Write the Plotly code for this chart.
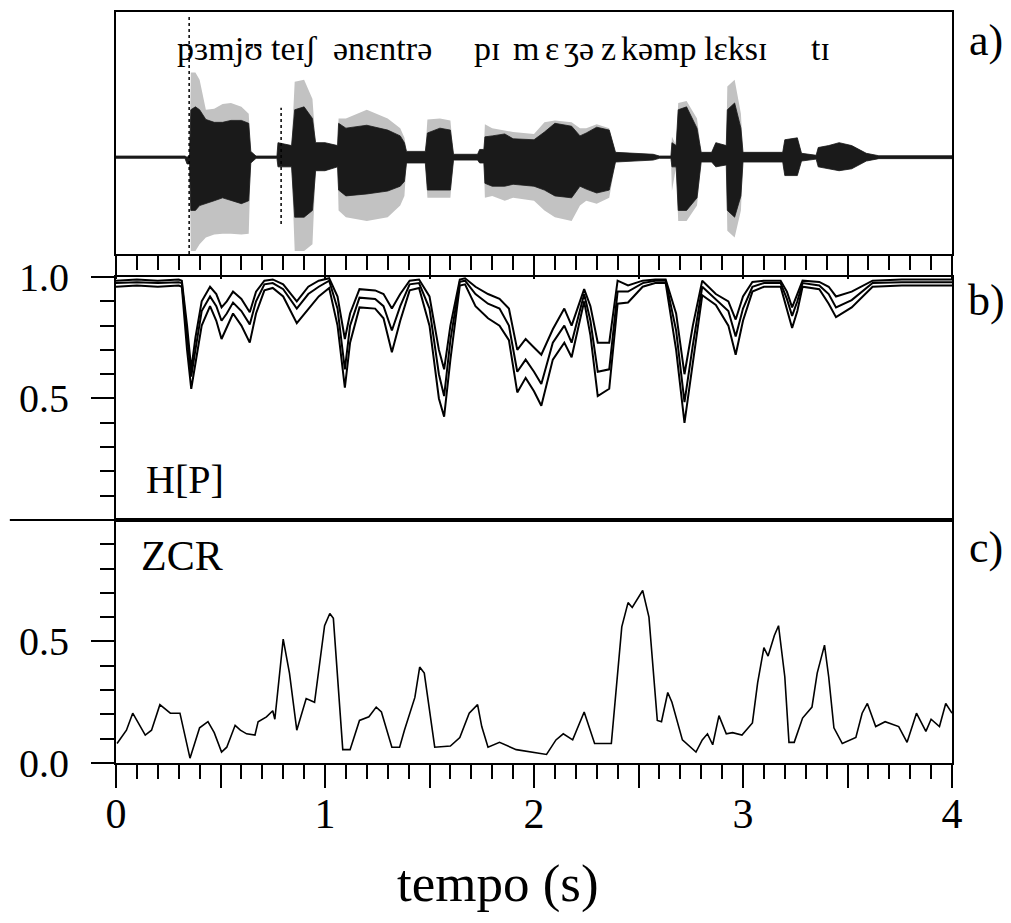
import plotly.graph_objects as go

# ---------------- data ----------------
# panel a: speech waveform envelopes (arbitrary amplitude units)
wave_t = [0.00, 0.33, 0.34, 0.352, 0.358, 0.38, 0.40, 0.43, 0.47, 0.51, 0.55, 0.60, 0.635, 0.645, 0.67,
          0.77, 0.775, 0.84, 0.855, 0.90, 0.94, 0.955, 1.00, 1.06, 1.065, 1.10, 1.20, 1.30, 1.36, 1.38,
          1.39, 1.48, 1.49, 1.55, 1.60, 1.615, 1.73, 1.74, 1.76, 1.765, 1.80, 1.86, 1.90, 2.00, 2.05,
          2.10, 2.18, 2.22, 2.25, 2.30, 2.36, 2.39, 2.57, 2.60, 2.655, 2.66, 2.68, 2.69, 2.73, 2.78,
          2.80, 2.85, 2.87, 2.92, 2.925, 2.96, 2.99, 3.00, 3.19, 3.20, 3.26, 3.28, 3.35, 3.36, 3.41,
          3.46, 3.52, 3.59, 3.65, 4.00]
core_hi = [0.012, 0.012, 0.00, 0.02, 0.49, 0.52, 0.49, 0.39, 0.36, 0.36, 0.38, 0.38, 0.35, 0.06, 0.012,
           0.012, 0.15, 0.12, 0.49, 0.52, 0.40, 0.15, 0.15, 0.12, 0.35, 0.30, 0.33, 0.28, 0.22, 0.15,
           0.06, 0.06, 0.25, 0.30, 0.28, 0.03, 0.03, 0.08, 0.08, 0.21, 0.22, 0.24, 0.19, 0.18, 0.26,
           0.35, 0.32, 0.22, 0.25, 0.31, 0.28, 0.05, 0.03, 0.012, 0.012, 0.15, 0.12, 0.49, 0.52, 0.30,
           0.05, 0.05, 0.15, 0.12, 0.49, 0.56, 0.30, 0.05, 0.05, 0.18, 0.20, 0.04, 0.02, 0.10, 0.12,
           0.15, 0.12, 0.04, 0.015, 0.015]
core_lo = [-0.012, -0.012, -0.07, -0.07, -0.55, -0.55, -0.50, -0.48, -0.45, -0.42, -0.45, -0.48, -0.45, -0.06, -0.012,
           -0.012, -0.10, -0.10, -0.62, -0.62, -0.55, -0.14, -0.14, -0.10, -0.34, -0.40, -0.38, -0.35, -0.30, -0.25,
           -0.06, -0.06, -0.34, -0.34, -0.34, -0.03, -0.03, -0.06, -0.06, -0.27, -0.30, -0.30, -0.28, -0.30, -0.34,
           -0.40, -0.42, -0.30, -0.33, -0.37, -0.34, -0.05, -0.03, -0.012, -0.012, -0.10, -0.10, -0.55, -0.55, -0.42,
           -0.05, -0.05, -0.10, -0.08, -0.55, -0.62, -0.40, -0.05, -0.05, -0.19, -0.19, -0.04, -0.02, -0.10, -0.12,
           -0.14, -0.12, -0.04, -0.015, -0.015]
outer_hi = [0.012, 0.012, 0.00, 0.02, 0.875, 0.875, 0.80, 0.49, 0.50, 0.55, 0.56, 0.52, 0.45, 0.06, 0.012,
            0.012, 0.15, 0.12, 0.78, 0.80, 0.60, 0.15, 0.15, 0.12, 0.40, 0.40, 0.49, 0.40, 0.30, 0.20,
            0.06, 0.06, 0.39, 0.40, 0.38, 0.03, 0.03, 0.08, 0.08, 0.34, 0.30, 0.28, 0.26, 0.24, 0.36,
            0.38, 0.36, 0.30, 0.30, 0.34, 0.30, 0.05, 0.03, 0.012, 0.012, 0.21, 0.12, 0.56, 0.58, 0.40,
            0.05, 0.05, 0.15, 0.12, 0.73, 0.80, 0.45, 0.05, 0.05, 0.18, 0.20, 0.04, 0.02, 0.10, 0.12,
            0.15, 0.12, 0.04, 0.015, 0.015]
outer_lo = [-0.012, -0.012, -0.07, -0.07, -0.97, -0.97, -0.90, -0.83, -0.80, -0.79, -0.79, -0.80, -0.79, -0.06, -0.012,
            -0.012, -0.10, -0.10, -0.97, -0.97, -0.90, -0.14, -0.14, -0.10, -0.55, -0.62, -0.66, -0.62, -0.50, -0.40,
            -0.06, -0.06, -0.42, -0.42, -0.42, -0.03, -0.03, -0.06, -0.06, -0.42, -0.40, -0.45, -0.42, -0.45, -0.55,
            -0.62, -0.66, -0.50, -0.45, -0.48, -0.42, -0.05, -0.03, -0.012, -0.012, -0.35, -0.10, -0.66, -0.66, -0.50,
            -0.05, -0.05, -0.10, -0.08, -0.76, -0.83, -0.55, -0.05, -0.05, -0.19, -0.19, -0.04, -0.02, -0.10, -0.12,
            -0.14, -0.12, -0.04, -0.015, -0.015]
spike_t = [0.35, 0.79]
spike_hi = [1.46, 0.51]
spike_lo = [-1.0, -0.69]

ipa_labels = ["pɜmjʊ", "teɪʃ", "ənɛntrə", "pɪ", "m", "ɛ", "ʒə", "z", "kəmp", "lɛksɪ", "tɪ"]
ipa_t = [0.282, 0.73, 1.03, 1.701, 1.892, 2.041, 2.136, 2.313, 2.409, 2.805, 3.317]

# panel b: H[P] (three curves)
hp_t = [0.00, 0.10, 0.20, 0.30, 0.315, 0.34, 0.36, 0.38, 0.41, 0.45, 0.48, 0.505, 0.53, 0.56, 0.60, 0.64,
        0.67, 0.71, 0.75, 0.80, 0.865, 0.92, 0.97, 1.02, 1.06, 1.095, 1.12, 1.165, 1.24, 1.28, 1.32, 1.36,
        1.405, 1.45, 1.50, 1.545, 1.57, 1.60, 1.645, 1.67, 1.72, 1.78, 1.835, 1.88, 1.92, 1.96, 2.00, 2.035,
        2.09, 2.145, 2.18, 2.24, 2.27, 2.305, 2.36, 2.40, 2.45, 2.52, 2.58, 2.63, 2.68, 2.72, 2.76, 2.805,
        2.87, 2.93, 2.965, 3.00, 3.045, 3.10, 3.18, 3.21, 3.235, 3.26, 3.285, 3.365, 3.41, 3.445, 3.52, 3.62,
        3.76, 3.90, 4.00]
hp_top = [0.985, 0.99, 0.985, 0.99, 0.985, 0.80, 0.62, 0.75, 0.90, 0.96, 0.93, 0.875, 0.90, 0.94, 0.91, 0.855,
          0.94, 0.985, 0.99, 0.97, 0.90, 0.96, 0.985, 0.995, 0.92, 0.745, 0.85, 0.95, 0.945, 0.93, 0.87, 0.93,
          0.985, 0.99, 0.92, 0.70, 0.62, 0.80, 0.99, 0.995, 0.96, 0.93, 0.91, 0.87, 0.70, 0.745, 0.71, 0.68,
          0.785, 0.87, 0.80, 0.95, 0.88, 0.73, 0.73, 0.985, 0.965, 0.985, 0.99, 0.99, 0.85, 0.60, 0.80, 0.985,
          0.93, 0.90, 0.825, 0.92, 0.98, 0.985, 0.985, 0.94, 0.875, 0.93, 0.985, 0.98, 0.96, 0.92, 0.94, 0.985,
          0.99, 0.99, 0.99]
hp_mid = [0.975, 0.978, 0.975, 0.978, 0.975, 0.75, 0.59, 0.70, 0.86, 0.92, 0.88, 0.82, 0.85, 0.895, 0.86, 0.805,
          0.90, 0.97, 0.975, 0.95, 0.87, 0.93, 0.96, 0.985, 0.87, 0.62, 0.80, 0.915, 0.91, 0.88, 0.78, 0.88,
          0.97, 0.975, 0.87, 0.60, 0.51, 0.74, 0.98, 0.985, 0.93, 0.89, 0.87, 0.80, 0.61, 0.66, 0.61, 0.56,
          0.73, 0.80, 0.73, 0.93, 0.82, 0.61, 0.62, 0.94, 0.94, 0.975, 0.985, 0.985, 0.78, 0.485, 0.72, 0.96,
          0.91, 0.86, 0.755, 0.87, 0.96, 0.975, 0.975, 0.91, 0.84, 0.90, 0.975, 0.965, 0.93, 0.875, 0.905, 0.975,
          0.978, 0.978, 0.978]
hp_bot = [0.96, 0.965, 0.96, 0.965, 0.96, 0.70, 0.54, 0.64, 0.80, 0.88, 0.82, 0.745, 0.79, 0.85, 0.80, 0.73,
          0.85, 0.945, 0.955, 0.92, 0.81, 0.87, 0.92, 0.955, 0.80, 0.545, 0.73, 0.875, 0.87, 0.83, 0.69, 0.82,
          0.945, 0.955, 0.80, 0.50, 0.425, 0.66, 0.965, 0.97, 0.88, 0.83, 0.80, 0.74, 0.525, 0.585, 0.53, 0.47,
          0.66, 0.73, 0.67, 0.90, 0.76, 0.51, 0.54, 0.89, 0.895, 0.96, 0.975, 0.975, 0.70, 0.40, 0.65, 0.925,
          0.885, 0.80, 0.68, 0.82, 0.94, 0.96, 0.96, 0.87, 0.79, 0.86, 0.96, 0.95, 0.89, 0.835, 0.875, 0.96,
          0.965, 0.965, 0.965]

# panel c: zero-crossing rate
zcr_t = [0.005, 0.05, 0.08, 0.10, 0.14, 0.17, 0.21, 0.26, 0.306, 0.354, 0.40, 0.44, 0.47, 0.505, 0.53,
         0.57, 0.595, 0.625, 0.665, 0.68, 0.72, 0.75, 0.76, 0.80, 0.83, 0.865, 0.91, 0.95, 0.998, 1.023,
         1.04, 1.085, 1.12, 1.165, 1.21, 1.245, 1.27, 1.32, 1.357, 1.38, 1.43, 1.453, 1.475, 1.525, 1.60,
         1.645, 1.69, 1.73, 1.75, 1.78, 1.835, 1.915, 2.06, 2.105, 2.14, 2.185, 2.24, 2.29, 2.37, 2.42,
         2.45, 2.47, 2.52, 2.55, 2.59, 2.61, 2.64, 2.66, 2.71, 2.775, 2.805, 2.83, 2.855, 2.885, 2.92,
         2.95, 2.995, 3.045, 3.07, 3.10, 3.12, 3.15, 3.17, 3.20, 3.22, 3.245, 3.285, 3.33, 3.355, 3.39,
         3.41, 3.435, 3.475, 3.54, 3.57, 3.595, 3.635, 3.68, 3.745, 3.785, 3.83, 3.875, 3.90, 3.94, 3.97,
         4.00]
zcr = [0.08, 0.135, 0.205, 0.175, 0.115, 0.135, 0.24, 0.205, 0.205, 0.02, 0.145, 0.17, 0.125, 0.045, 0.065,
       0.155, 0.135, 0.12, 0.115, 0.17, 0.19, 0.215, 0.18, 0.51, 0.37, 0.135, 0.265, 0.25, 0.565, 0.615,
       0.595, 0.055, 0.055, 0.175, 0.19, 0.23, 0.21, 0.065, 0.065, 0.135, 0.27, 0.395, 0.37, 0.065, 0.07,
       0.105, 0.205, 0.24, 0.15, 0.065, 0.085, 0.055, 0.035, 0.095, 0.12, 0.095, 0.21, 0.08, 0.08, 0.56,
       0.66, 0.64, 0.71, 0.60, 0.175, 0.17, 0.29, 0.25, 0.095, 0.045, 0.095, 0.12, 0.075, 0.195, 0.12,
       0.125, 0.115, 0.165, 0.33, 0.475, 0.44, 0.525, 0.565, 0.355, 0.085, 0.085, 0.185, 0.23, 0.37, 0.485,
       0.355, 0.145, 0.08, 0.105, 0.205, 0.245, 0.15, 0.17, 0.15, 0.085, 0.205, 0.13, 0.18, 0.15, 0.245,
       0.205]

x_major = [0, 0.5, 1, 1.5, 2, 2.5, 3, 3.5, 4]
x_labels = ["0", "", "1", "", "2", "", "3", "", "4"]

# ---------------- figure ----------------
SERIF = "Liberation Serif, DejaVu Serif, serif"
BLK = "black"
fig = go.Figure()

fig.add_trace(go.Scatter(x=wave_t + wave_t[::-1], y=outer_hi + outer_lo[::-1], fill="toself",
                         fillcolor="#c2c2c2", line=dict(width=0), mode="lines",
                         xaxis="x", yaxis="y", hoverinfo="skip"))
fig.add_trace(go.Scatter(x=wave_t + wave_t[::-1], y=core_hi + core_lo[::-1], fill="toself",
                         fillcolor="#1a1a1a", line=dict(width=0.8, color="#1a1a1a"), mode="lines",
                         xaxis="x", yaxis="y", hoverinfo="skip"))
sx, sy = [], []
for t, hi, lo in zip(spike_t, spike_hi, spike_lo):
    sx += [t, t, None]
    sy += [lo, hi, None]
fig.add_trace(go.Scatter(x=sx, y=sy, mode="lines", line=dict(color=BLK, width=1.5, dash="dot"),
                         xaxis="x", yaxis="y", hoverinfo="skip"))

for series in (hp_top, hp_mid, hp_bot):
    fig.add_trace(go.Scatter(x=hp_t, y=series, mode="lines", line=dict(color=BLK, width=2),
                             xaxis="x2", yaxis="y2", hoverinfo="skip"))

fig.add_trace(go.Scatter(x=zcr_t, y=zcr, mode="lines", line=dict(color=BLK, width=1.6),
                         xaxis="x3", yaxis="y3", hoverinfo="skip"))

minor_x = dict(ticks="outside", dtick=0.1, tick0=0, ticklen=14, tickwidth=2, tickcolor=BLK)
minor_y = dict(ticks="outside", dtick=0.1, tick0=0, ticklen=14, tickwidth=2, tickcolor=BLK)
common_x = dict(range=[0, 4], showgrid=False, zeroline=False, showline=True, linecolor=BLK,
                linewidth=2, mirror=True, automargin=False)

fig.update_layout(
    width=1003, height=915,
    margin=dict(l=108, r=59, t=4, b=160, autoexpand=False),
    paper_bgcolor="white", plot_bgcolor="white",
    showlegend=False,
    font=dict(family=SERIF, color=BLK, size=40),
    xaxis=dict(**common_x, anchor="y", ticks="outside", tickmode="array", tickvals=x_major,
               ticklen=23, tickwidth=2, tickcolor=BLK, showticklabels=False, minor=minor_x),
    yaxis=dict(domain=[0.6778, 1.0], range=[-1.0, 1.5], showgrid=False, zeroline=False,
               showline=True, linecolor=BLK, linewidth=2, mirror=True, showticklabels=False, ticks="",
               automargin=False),
    xaxis2=dict(**common_x, anchor="y2", ticks="", showticklabels=False),
    yaxis2=dict(domain=[0.3236, 0.6471], range=[0, 1.0], showgrid=False, zeroline=False,
                showline=True, linecolor=BLK, linewidth=2, mirror=True, automargin=False,
                ticks="outside", tickmode="array", tickvals=[0.5, 1.0], ticktext=["0.5", "1.0"],
                ticklen=23, tickwidth=2, tickcolor=BLK, minor=minor_y,
                tickfont=dict(size=40, family=SERIF), ticklabelstandoff=14),
    xaxis3=dict(**common_x, anchor="y3", ticks="outside", tickmode="array", tickvals=x_major,
                ticktext=x_labels, ticklen=23, tickwidth=2, tickcolor=BLK, minor=minor_x,
                tickfont=dict(size=42, family=SERIF), ticklabelstandoff=-10),
    yaxis3=dict(domain=[0.0, 0.3236], range=[0, 1.0], showgrid=False, zeroline=False,
                showline=True, linecolor=BLK, linewidth=2, mirror=True, automargin=False,
                ticks="outside", tickmode="array", tickvals=[0.0, 0.5], ticktext=["0.0", "0.5"],
                ticklen=23, tickwidth=2, tickcolor=BLK, minor=minor_y,
                tickfont=dict(size=40, family=SERIF), ticklabelstandoff=14),
)

fig.add_shape(type="line", xref="paper", yref="paper", x0=-0.127, x1=1.0, y0=0.3236, y1=0.3236,
              line=dict(color=BLK, width=2))

ann = []
for lab, t in zip(ipa_labels, ipa_t):
    ann.append(dict(text=lab, x=t, y=1.12, xref="x", yref="y", xanchor="left", yanchor="middle",
                    showarrow=False, font=dict(size=34, family=SERIF, color=BLK)))
ann.append(dict(text="H[P]", x=0.135, y=0.165, xref="x2", yref="y2", xanchor="left", yanchor="middle",
                showarrow=False, font=dict(size=40, family=SERIF, color=BLK)))
ann.append(dict(text="ZCR", x=0.11, y=0.85, xref="x3", yref="y3", xanchor="left", yanchor="middle",
                showarrow=False, font=dict(size=42, family=SERIF, color=BLK)))
for lab, yp in (("a)", 0.9627), ("b)", 0.6165), ("c)", 0.2863)):
    ann.append(dict(text=lab, x=1.0407, y=yp, xref="paper", yref="paper", xanchor="center",
                    yanchor="middle", showarrow=False, font=dict(size=44, family=SERIF, color=BLK)))
ann.append(dict(text="tempo (s)", x=0.457, y=-0.161, xref="paper", yref="paper", xanchor="center",
                yanchor="middle", showarrow=False, font=dict(size=53, family=SERIF, color=BLK)))
fig.update_layout(annotations=ann)

fig.write_html("out.html")
